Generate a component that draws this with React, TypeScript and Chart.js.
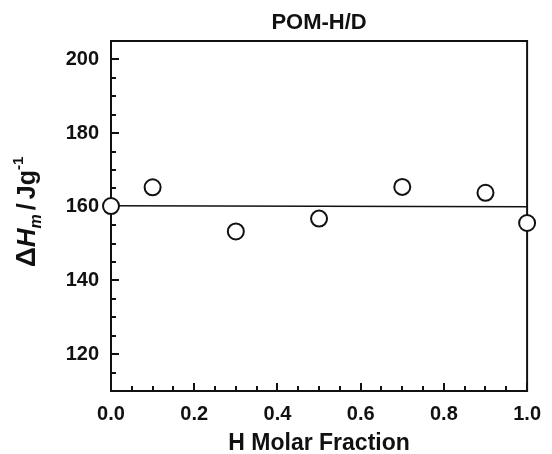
import React, { useEffect, useRef } from "react";
import { Chart, registerables } from "chart.js";

Chart.register(...registerables);

const chartTitle = "POM-H/D";
const xAxisTitle = "H Molar Fraction";

const hFraction = [0, 0.1, 0.3, 0.5, 0.7, 0.9, 1.0];
const deltaHm = [160.2, 165.3, 153.3, 156.8, 165.4, 163.8, 155.6];

const fitX = [0, 1.0];
const fitY = [160.3, 160.0];

const xMajorTicks = [0, 0.2, 0.4, 0.6, 0.8, 1.0];
const xTickLabels = ["0.0", "0.2", "0.4", "0.6", "0.8", "1.0"];
const xMinorTicks = [0.05, 0.1, 0.15, 0.25, 0.3, 0.35, 0.45, 0.5, 0.55, 0.65, 0.7, 0.75, 0.85, 0.9, 0.95];

const yMajorTicks = [120, 140, 160, 180, 200];
const yTickLabels = ["120", "140", "160", "180", "200"];
const yMinorTicks = [115, 125, 130, 135, 145, 150, 155, 165, 170, 175, 185, 190, 195];

const FONT = '"Liberation Sans", Arial, sans-serif';

const framePlugin = {
  id: "frame",
  beforeDatasetsDraw(chart: any) {
    const { ctx, chartArea: a, scales } = chart;
    const xs = scales.x;
    const ys = scales.y;
    ctx.save();
    ctx.strokeStyle = "#111";
    ctx.lineWidth = 2;
    ctx.beginPath();
    yMajorTicks.forEach((v) => {
      const y = Math.round(ys.getPixelForValue(v));
      ctx.moveTo(a.left, y);
      ctx.lineTo(a.left + 8, y);
    });
    yMinorTicks.forEach((v) => {
      const y = Math.round(ys.getPixelForValue(v));
      ctx.moveTo(a.left, y);
      ctx.lineTo(a.left + 5, y);
    });
    xMajorTicks.forEach((v) => {
      const x = Math.round(xs.getPixelForValue(v));
      ctx.moveTo(x, a.bottom);
      ctx.lineTo(x, a.bottom - 8);
    });
    xMinorTicks.forEach((v) => {
      const x = Math.round(xs.getPixelForValue(v));
      ctx.moveTo(x, a.bottom);
      ctx.lineTo(x, a.bottom - 5);
    });
    ctx.stroke();
    ctx.strokeRect(a.left, a.top, a.right - a.left, a.bottom - a.top);
    ctx.restore();
  },
  afterDraw(chart: any) {
    const { ctx, chartArea: a } = chart;
    const cx = (a.left + a.right) / 2;
    ctx.save();
    ctx.fillStyle = "#111";
    ctx.textAlign = "center";
    ctx.textBaseline = "middle";
    ctx.font = `bold 22px ${FONT}`;
    ctx.fillText(chartTitle, cx, 23);
    ctx.font = `bold 23px ${FONT}`;
    ctx.fillText(xAxisTitle, cx, 444);

    // y-axis title: ΔH_m / Jg^-1
    const segs = [
      { t: "Δ", f: `bold 28px ${FONT}`, dy: 0, gap: 0 },
      { t: "H", f: `italic bold 26px ${FONT}`, dy: 0, gap: 0 },
      { t: "m", f: `italic bold 16px ${FONT}`, dy: 6, gap: 4 },
      { t: "/", f: `bold 25px ${FONT}`, dy: 0, gap: 4 },
      { t: "Jg", f: `bold 25px ${FONT}`, dy: 0, gap: 0 },
      { t: "-1", f: `bold 15px ${FONT}`, dy: -12, gap: 0 },
    ];
    let total = 0;
    const widths = segs.map((s) => {
      ctx.font = s.f;
      const w = ctx.measureText(s.t).width;
      total += w + s.gap;
      return w;
    });
    ctx.translate(35, 212);
    ctx.rotate(-Math.PI / 2);
    ctx.textAlign = "left";
    ctx.textBaseline = "alphabetic";
    let x = -total / 2;
    segs.forEach((s, i) => {
      ctx.font = s.f;
      ctx.fillText(s.t, x, s.dy);
      x += widths[i] + s.gap;
    });
    ctx.restore();
  },
};

export default function App() {
  const ref = useRef<HTMLCanvasElement>(null);
  useEffect(() => {
    if (!ref.current) return;
    const chart = new Chart(ref.current, {
      type: "scatter",
      data: {
        datasets: [
          {
            label: "ΔHm",
            data: hFraction.map((x, i) => ({ x, y: deltaHm[i] })),
            pointStyle: "circle",
            pointRadius: 8,
            pointBorderWidth: 2,
            pointBackgroundColor: "#ffffff",
            pointBorderColor: "#111",
            showLine: false,
            clip: false as any,
            order: 0,
          },
          {
            label: "fit",
            data: fitX.map((x, i) => ({ x, y: fitY[i] })),
            showLine: true,
            pointRadius: 0,
            borderColor: "#111",
            borderWidth: 1.6,
            order: 1,
          },
        ],
      },
      options: {
        animation: false,
        responsive: false,
        devicePixelRatio: 1,
        layout: { padding: { left: 0, right: 17, top: 41, bottom: 0 } },
        plugins: { legend: { display: false }, tooltip: { enabled: false }, title: { display: false } },
        scales: {
          x: {
            type: "linear",
            min: 0,
            max: 1,
            grid: { display: false, drawTicks: false },
            border: { display: false },
            afterBuildTicks: (s: any) => {
              s.ticks = xMajorTicks.map((v) => ({ value: v }));
            },
            afterFit: (s: any) => {
              s.height = 63;
            },
            ticks: {
              autoSkip: false,
              maxRotation: 0,
              padding: 11,
              color: "#111",
              font: { family: FONT, size: 20, weight: "bold" },
              callback: (_v: any, i: number) => xTickLabels[i],
            },
          },
          y: {
            type: "linear",
            min: 110,
            max: 205,
            grid: { display: false, drawTicks: false },
            border: { display: false },
            afterBuildTicks: (s: any) => {
              s.ticks = yMajorTicks.map((v) => ({ value: v }));
            },
            afterFit: (s: any) => {
              s.width = 111;
            },
            ticks: {
              autoSkip: false,
              padding: 12,
              color: "#111",
              font: { family: FONT, size: 20, weight: "bold" },
              callback: (_v: any, i: number) => yTickLabels[i],
            },
          },
        },
      },
      plugins: [framePlugin],
    });
    return () => chart.destroy();
  }, []);
  return (
    <div style={{ position: "fixed", left: 0, top: 0, width: 552, height: 454, background: "#fff" }}>
      <canvas ref={ref} width={552} height={454} style={{ display: "block" }} />
    </div>
  );
}
